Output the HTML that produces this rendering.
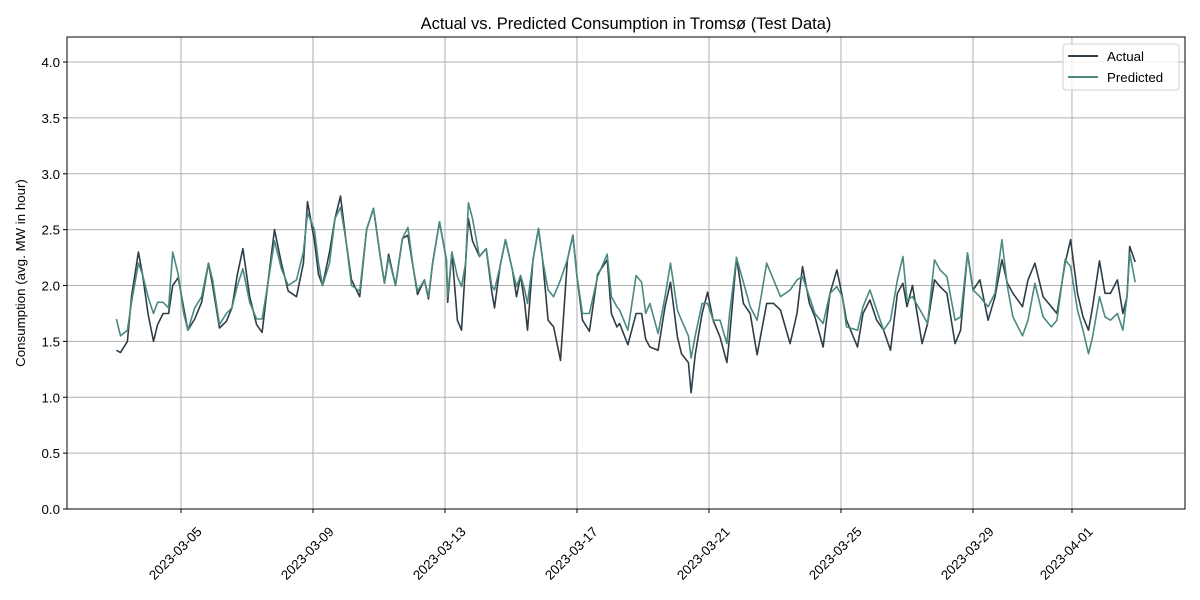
<!DOCTYPE html>
<html><head><meta charset="utf-8"><title>Actual vs Predicted Consumption</title>
<style>body{margin:0;background:#fff}svg{display:block;font-family:"Liberation Sans","DejaVu Sans",sans-serif}</style>
</head><body>
<svg id="chart" width="1200" height="600" viewBox="0 0 1200 600" xmlns="http://www.w3.org/2000/svg">
<rect width="1200" height="600" fill="#fff"/>
<g id="grid"></g>
<g id="series"></g>
<rect x="67" y="37" width="1118" height="472" fill="none" stroke="#000" stroke-width="1"/>
<g id="axes"></g>
<text x="626" y="29" text-anchor="middle" font-size="16.5">Actual vs. Predicted Consumption in Tromsø (Test Data)</text>
<text transform="translate(25,273) rotate(-90)" text-anchor="middle" font-size="13.3">Consumption (avg. MW in hour)</text>
<g>
<rect x="1063" y="44" width="116" height="46" rx="3" fill="#fff" fill-opacity="0.8" stroke="#d0d0d0"/>
<g><line x1="1068" y1="56" x2="1098" y2="56" stroke="#2f3e46" stroke-width="2"/><text x="1107" y="61" font-size="13.3">Actual</text></g>
<g><line x1="1068" y1="77" x2="1098" y2="77" stroke="#4a8a80" stroke-width="2"/><text x="1107" y="82" font-size="13.3">Predicted</text></g>
</g>
</svg>
<script>
// hours since 2023-03-03 00:00
const hours=[1,4,9,12,17,20,24,28,31,35,39,42,46,50,53,58,63,68,71,76,81,85,89,93,98,103,107,111,116,121,126,132,137,140,145,148,151,156,160,164,168,172,178,
183,188,193,196,199,204,209,213,217,220,225,228,231,236,241,242,245,249,252,255,257,260,265,270,274,276,280,284,289,292,295,298,300,304,308,311,315,319,324,329,333,336,340,345,351,358,361,365,
367,373,379,383,386,389,395,400,404,409,412,417,419,422,427,431,435,440,445,447,452,457,462,467,474,479,484,491,496,500,505,509,515,520,525,529,532,540,544,549,
554,559,564,569,573,576,580,587,591,596,600,605,611,615,620,624,629,635,640,645,649,653,660,664,669,675,681,685,691,695,700,704,708,711,716,720,724,729,733,736,738,742];
const actual=[1.42,1.40,1.5,1.9,2.3,2.1,1.75,1.5,1.65,1.75,1.75,2.0,2.07,1.8,1.6,1.7,1.85,2.2,2.0,1.62,1.68,1.8,2.1,2.33,1.9,1.65,1.58,2.0,2.5,2.2,1.95,1.9,2.2,2.75,2.4,2.1,2.0,2.3,2.6,2.8,2.4,2.05,1.9,
2.5,2.69,2.25,2.02,2.28,2.0,2.42,2.45,2.15,1.92,2.05,1.88,2.2,2.57,2.23,1.85,2.3,1.69,1.6,2.2,2.6,2.4,2.26,2.33,1.95,1.8,2.17,2.41,2.14,1.9,2.09,1.84,1.6,2.23,2.51,2.23,1.69,1.63,1.33,2.23,2.45,2.08,1.69,1.59,2.1,2.23,1.75,1.63,
1.66,1.47,1.75,1.75,1.52,1.45,1.42,1.81,2.03,1.54,1.39,1.31,1.04,1.38,1.75,1.94,1.69,1.54,1.31,1.54,2.25,1.84,1.75,1.38,1.84,1.84,1.78,1.48,1.75,2.17,1.84,1.72,1.45,1.93,2.14,1.9,1.69,1.45,1.75,1.87,
1.69,1.6,1.42,1.93,2.02,1.81,2.0,1.48,1.66,2.05,1.99,1.93,1.48,1.6,2.29,1.96,2.05,1.69,1.9,2.23,2.02,1.93,1.81,2.05,2.2,1.9,1.81,1.75,2.2,2.41,1.93,1.72,1.6,1.81,2.22,1.93,1.93,2.05,1.75,1.9,2.35,2.21];
const predicted=[1.7,1.55,1.6,1.85,2.2,2.1,1.9,1.75,1.85,1.85,1.8,2.3,2.1,1.75,1.6,1.8,1.9,2.2,2.05,1.65,1.75,1.8,2.0,2.15,1.85,1.7,1.7,2.0,2.4,2.15,2.0,2.05,2.3,2.65,2.5,2.2,2.0,2.2,2.6,2.7,2.4,2.0,1.95,
2.5,2.69,2.25,2.02,2.25,2.0,2.42,2.52,2.15,1.95,2.05,1.9,2.2,2.57,2.23,1.9,2.3,2.08,1.99,2.2,2.74,2.6,2.26,2.33,2.0,1.96,2.17,2.41,2.14,1.99,2.09,1.96,1.84,2.23,2.51,2.23,1.96,1.9,2.05,2.23,2.45,2.08,1.75,1.75,2.08,2.28,1.9,1.81,
1.78,1.6,2.09,2.03,1.75,1.84,1.57,1.9,2.2,1.78,1.69,1.55,1.35,1.55,1.84,1.84,1.69,1.69,1.48,1.75,2.25,2.03,1.81,1.69,2.2,2.05,1.9,1.96,2.05,2.08,1.9,1.75,1.66,1.93,1.99,1.9,1.63,1.6,1.81,1.96,
1.78,1.6,1.69,2.05,2.26,1.87,1.9,1.75,1.66,2.23,2.14,2.08,1.69,1.72,2.29,1.96,1.9,1.81,1.93,2.41,1.99,1.72,1.55,1.69,2.02,1.72,1.63,1.69,2.23,2.17,1.78,1.6,1.39,1.54,1.9,1.72,1.69,1.75,1.6,1.9,2.29,2.03];
const yTicks=[0,0.5,1.0,1.5,2.0,2.5,3.0,3.5,4.0];
const xTickHours=[48,144,240,336,432,528,624,696];
const xTickLabels=["2023-03-05","2023-03-09","2023-03-13","2023-03-17","2023-03-21","2023-03-25","2023-03-29","2023-04-01"];

const NS="http://www.w3.org/2000/svg";
const X0=67,X1=1185,Y0=509,Y1=37,HMIN=-34.9,HMAX=778.2,VMIN=0,VMAX=4.224;
function xs(h){return X0+(h-HMIN)/(HMAX-HMIN)*(X1-X0);}
function ys(v){return Y0-(v-VMIN)/(VMAX-VMIN)*(Y0-Y1);}
function mk(tag,attrs,parent){const e=document.createElementNS(NS,tag);for(const k in attrs)e.setAttribute(k,attrs[k]);parent.appendChild(e);return e;}
const grid=document.getElementById('grid'),axes=document.getElementById('axes'),series=document.getElementById('series');
yTicks.forEach(v=>{const y=ys(v);
 const g=mk('line',{x1:X0,x2:X1,y1:y,y2:y,stroke:'#b0b0b0','stroke-width':1},grid);
 
 
 const t=mk('line',{x1:X0-4,x2:X0,y1:y,y2:y,stroke:'#000'},axes);
 
 
 const l=mk('text',{x:X0-7,y:y+5,'text-anchor':'end','font-size':13.3},axes);
 l.textContent=v.toFixed(1);
 
 
});
xTickHours.forEach((h,i)=>{const x=xs(h);
 const g=mk('line',{x1:x,x2:x,y1:Y1,y2:Y0,stroke:'#b0b0b0','stroke-width':1},grid);
 
 
 const t=mk('line',{x1:x,x2:x,y1:Y0,y2:Y0+4,stroke:'#000'},axes);
 
 
 const cx=x-6, cy=553;
 const l=mk('text',{x:cx,y:cy+5,'text-anchor':'middle','font-size':13.3,transform:`rotate(-45 ${cx} ${cy})`},axes);
 l.textContent=xTickLabels[i];
 
 
});
function line(vals,color,name){
 const d=vals.map((v,i)=>(i?'L':'M')+xs(hours[i]).toFixed(1)+','+ys(v).toFixed(1)).join('');
 const p=mk('path',{d:d,fill:'none',stroke:color,'stroke-width':1.6,'stroke-linejoin':'round'},series);
 
 
}
line(actual,'#2f3e46','actual-line');
line(predicted,'#4a8a80','predicted-line');
</script>
</body></html>
